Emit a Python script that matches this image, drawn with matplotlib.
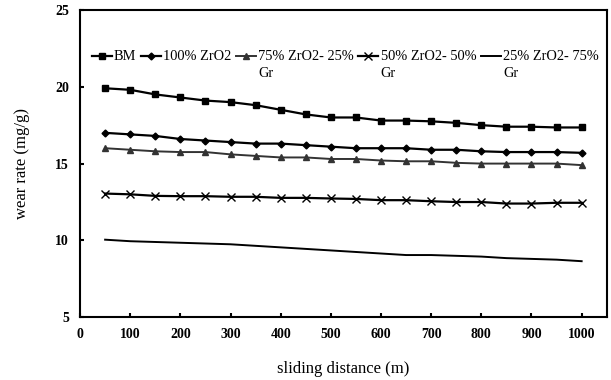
import matplotlib
matplotlib.use("Agg")
import matplotlib.pyplot as plt
from matplotlib.legend_handler import HandlerLine2D

distance = [50, 100, 150, 200, 250, 300, 350, 400, 450, 500,
            550, 600, 650, 700, 750, 800, 850, 900, 950, 1000]
bm = [19.9, 19.8, 19.5, 19.3, 19.1, 19.0, 18.8, 18.5, 18.2, 18.0,
      18.0, 17.8, 17.8, 17.75, 17.65, 17.5, 17.4, 17.4, 17.35, 17.35]
zro2_100 = [17.0, 16.9, 16.8, 16.6, 16.5, 16.4, 16.3, 16.3, 16.2, 16.1,
            16.0, 16.0, 16.0, 15.9, 15.9, 15.8, 15.75, 15.75, 15.75, 15.7]
zro2_75 = [16.0, 15.9, 15.8, 15.75, 15.75, 15.6, 15.5, 15.4, 15.4, 15.3,
           15.3, 15.2, 15.15, 15.15, 15.05, 15.0, 15.0, 15.0, 15.0, 14.9]
zro2_50 = [13.05, 13.0, 12.9, 12.88, 12.88, 12.84, 12.84, 12.77, 12.77, 12.73,
           12.7, 12.62, 12.62, 12.55, 12.5, 12.5, 12.4, 12.4, 12.45, 12.45]
zro2_25 = [10.05, 9.95, 9.9, 9.85, 9.8, 9.75, 9.65, 9.55, 9.45, 9.35,
           9.25, 9.15, 9.05, 9.05, 9.0, 8.95, 8.85, 8.8, 8.75, 8.65]

labels = ["BM\n ", "100% ZrO2\n ", "75% ZrO2- 25%\nGr", "50% ZrO2- 50%\nGr", "25% ZrO2- 75%\nGr"]
xticks = [0, 100, 200, 300, 400, 500, 600, 700, 800, 900, 1000]
yticks = [5, 10, 15, 20, 25]


class RaisedHandler(HandlerLine2D):
    """Place the legend sample on the first line of a two-line label."""
    def __init__(self, raise_by, **kw):
        super().__init__(**kw)
        self.raise_by = raise_by

    def create_artists(self, legend, orig_handle, xdescent, ydescent, width, height,
                       fontsize, trans):
        return super().create_artists(legend, orig_handle, xdescent,
                                      ydescent - self.raise_by * fontsize,
                                      width, height, fontsize, trans)


plt.rcParams['font.family'] = ['Liberation Serif', 'DejaVu Serif']

fig = plt.figure(figsize=(6.11, 3.80), dpi=100)
ax = fig.add_axes([0.131, 0.165, 0.862, 0.809])

lines = []
lines += ax.plot(distance, bm, color='black', lw=1.6, marker='s', ms=5, label=labels[0])
lines += ax.plot(distance, zro2_100, color='black', lw=1.6, marker='D', ms=3.5, label=labels[1])
lines += ax.plot(distance, zro2_75, color='#333333', lw=1.4, marker='^', ms=4.5, label=labels[2])
lines += ax.plot(distance, zro2_50, color='black', lw=1.6, marker='x', ms=6, mew=1.0, label=labels[3])
lines += ax.plot(distance, zro2_25, color='black', lw=1.4, label=labels[4])

ax.set_xlim(0, 1050)
ax.set_ylim(5, 25)
ax.set_xticks(xticks)
ax.set_yticks(yticks)
ax.tick_params(direction='in', length=3, width=1.5, labelsize=10)
for lab in ax.get_xticklabels() + ax.get_yticklabels():
    lab.set_fontweight('bold')
ax.tick_params(axis='x', pad=8)
ax.tick_params(axis='y', pad=8)
for s in ax.spines.values():
    s.set_linewidth(1.5)

ax.set_xlabel("sliding distance (m)", fontsize=12, labelpad=14)
ax.set_ylabel("wear rate (mg/g)", fontsize=12, labelpad=18)

hmap = {ln: RaisedHandler(1.2) for ln in lines}
leg = ax.legend(loc='upper left', bbox_to_anchor=(0.022, 0.87), ncol=5, frameon=False,
                fontsize=10.4, handlelength=1.4, handletextpad=0.15, columnspacing=0.3,
                borderaxespad=0.0, borderpad=0.0, handler_map=hmap)
for t in leg.get_texts():
    t.set_linespacing(1.45)

fig.savefig("out.png", dpi=100)
